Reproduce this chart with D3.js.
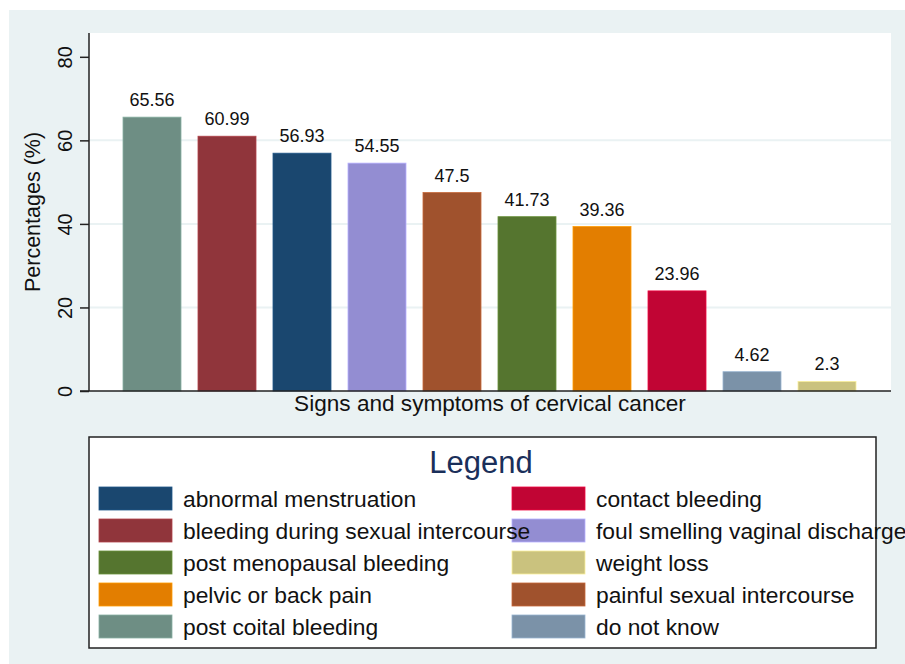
<!DOCTYPE html>
<html>
<head>
<meta charset="utf-8">
<script src="https://cdn.jsdelivr.net/npm/d3@7"></script>
<style>
  body { margin: 0; background: #ffffff; }
  svg text { font-family: "Liberation Sans", Arial, sans-serif; }
</style>
</head>
<body>
<svg id="vis" width="905" height="664"></svg>
<script>
// symptoms in bar order (sorted by percentage)
const symptoms = [
  "post coital bleeding",
  "bleeding during sexual intercourse",
  "abnormal menstruation",
  "foul smelling vaginal discharge",
  "painful sexual intercourse",
  "post menopausal bleeding",
  "pelvic or back pain",
  "contact bleeding",
  "do not know",
  "weight loss"
];
const percentages = [65.56, 60.99, 56.93, 54.55, 47.5, 41.73, 39.36, 23.96, 4.62, 2.3];
const valueLabels = ["65.56", "60.99", "56.93", "54.55", "47.5", "41.73", "39.36", "23.96", "4.62", "2.3"];
const barColours = ["#6e8e84", "#90353b", "#1a476f", "#938dd2", "#a0522d", "#55752f", "#e37e00", "#c10534", "#7b92a8", "#cac27e"];

const yTicks = [0, 20, 40, 60, 80];
const gridTicks = [20, 40, 60];

// legend layout: left column then right column
const legendLeft = ["abnormal menstruation", "bleeding during sexual intercourse", "post menopausal bleeding", "pelvic or back pain", "post coital bleeding"];
const legendRight = ["contact bleeding", "foul smelling vaginal discharge", "weight loss", "painful sexual intercourse", "do not know"];

const svg = d3.select("#vis");

const plotLeft = 89;
const plotRight = 891;
const plotTop = 33;
const plotBottom = 391;

const colourScale = d3.scaleOrdinal(symptoms, barColours);

const y = d3.scaleLinear().domain([0, 85.7]).range([plotBottom, plotTop]);
const x = d3.scaleBand()
  .domain(symptoms)
  .range([114.5, 864.5])
  .paddingInner(17 / 75)
  .paddingOuter(8.5 / 75);

// outer background
svg.append("rect")
  .attr("x", 9).attr("y", 10)
  .attr("width", 905 - 9).attr("height", 664 - 10)
  .attr("fill", "#eaf2f3");

// plot region
svg.append("rect")
  .attr("x", plotLeft).attr("y", plotTop)
  .attr("width", plotRight - plotLeft).attr("height", plotBottom - plotTop)
  .attr("fill", "#ffffff");

// gridlines
svg.selectAll("line.grid")
  .data(gridTicks)
  .join("line")
  .attr("class", "grid")
  .attr("x1", plotLeft).attr("x2", plotRight)
  .attr("y1", d => y(d)).attr("y2", d => y(d))
  .attr("stroke", "#eaf2f3")
  .attr("stroke-width", 2);

// bars
svg.selectAll("rect.bar")
  .data(percentages)
  .join("rect")
  .attr("class", "bar")
  .attr("x", (d, i) => x(symptoms[i]))
  .attr("y", d => y(d))
  .attr("width", x.bandwidth())
  .attr("height", d => plotBottom - y(d))
  .attr("fill", (d, i) => colourScale(symptoms[i]))
  .attr("stroke", (d, i) => d3.color(colourScale(symptoms[i])).brighter(0.6))
  .attr("stroke-width", 0.8);

// value labels
svg.selectAll("text.value")
  .data(percentages)
  .join("text")
  .attr("class", "value")
  .attr("x", (d, i) => x(symptoms[i]) + x.bandwidth() / 2)
  .attr("y", d => y(d) - 11)
  .attr("text-anchor", "middle")
  .attr("font-size", 18)
  .attr("fill", "#111")
  .text((d, i) => valueLabels[i]);

// y axis
const yAxis = d3.axisLeft(y)
  .tickValues(yTicks)
  .tickSize(9)
  .tickFormat(d3.format("d"));

const yAxisG = svg.append("g")
  .attr("transform", `translate(${plotLeft},0)`)
  .call(yAxis);
yAxisG.select(".domain")
  .attr("d", `M0,${plotTop}V${plotBottom}`)
  .attr("stroke", "#222")
  .attr("stroke-width", 1.5);
yAxisG.selectAll(".tick line").attr("stroke", "#222").attr("stroke-width", 1.5);
yAxisG.selectAll(".tick text")
  .attr("font-size", 20)
  .attr("fill", "#111")
  .attr("font-family", "Liberation Sans, Arial, sans-serif")
  .attr("text-anchor", "middle")
  .attr("dy", null)
  .attr("x", 0)
  .attr("y", -17)
  .attr("transform", "rotate(-90)");

// x axis line
svg.append("line")
  .attr("x1", plotLeft - 9).attr("x2", plotRight)
  .attr("y1", plotBottom).attr("y2", plotBottom)
  .attr("stroke", "#222")
  .attr("stroke-width", 1.5);

// axis titles
svg.append("text")
  .attr("transform", "translate(40, 212) rotate(-90)")
  .attr("text-anchor", "middle")
  .attr("font-size", 21.5)
  .attr("fill", "#111")
  .text("Percentages (%)");

svg.append("text")
  .attr("x", 490).attr("y", 411)
  .attr("text-anchor", "middle")
  .attr("font-size", 22.6)
  .attr("fill", "#111")
  .text("Signs and symptoms of cervical cancer");

// legend
const legend = svg.append("g");
legend.append("rect")
  .attr("x", 89).attr("y", 437)
  .attr("width", 876 - 89).attr("height", 648 - 437)
  .attr("fill", "#ffffff")
  .attr("stroke", "#222")
  .attr("stroke-width", 1.5);

legend.append("text")
  .attr("x", 481).attr("y", 473)
  .attr("text-anchor", "middle")
  .attr("font-size", 31)
  .attr("fill", "#1a2f5a")
  .text("Legend");

const rowY = d3.scaleLinear().domain([0, 1]).range([487, 519]);
const columns = [
  { items: legendLeft, swatchX: 99, textX: 183 },
  { items: legendRight, swatchX: 512, textX: 596 }
];

columns.forEach(col => {
  legend.selectAll(null)
    .data(col.items)
    .join("rect")
    .attr("x", col.swatchX)
    .attr("y", (d, i) => rowY(i))
    .attr("width", 73)
    .attr("height", 23)
    .attr("fill", d => colourScale(d))
    .attr("stroke", d => d3.color(colourScale(d)).brighter(0.6))
    .attr("stroke-width", 0.8);
});

columns.forEach(col => {
  legend.selectAll(null)
    .data(col.items)
    .join("text")
    .attr("x", col.textX)
    .attr("y", (d, i) => rowY(i) + 20)
    .attr("font-size", 22.8)
    .attr("fill", "#111")
    .text(d => d);
});
</script>
</body>
</html>
